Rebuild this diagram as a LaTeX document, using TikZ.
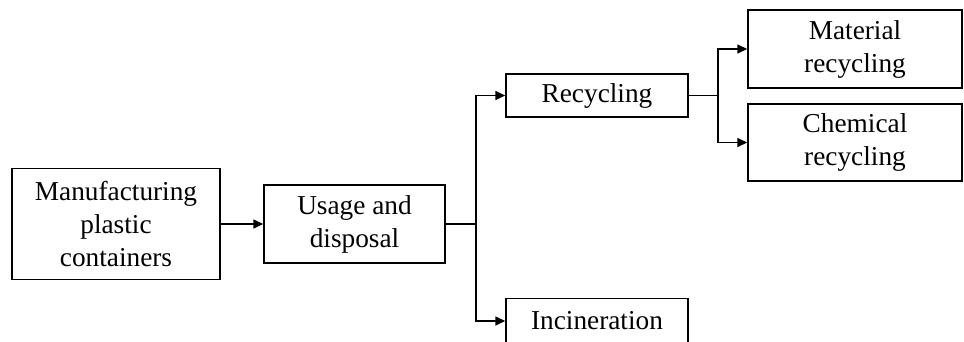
\documentclass[tikz,border=0pt]{standalone}
\usepackage{fontspec}
\setmainfont{Liberation Serif}
\usetikzlibrary{arrows.meta}
\begin{document}
\begin{tikzpicture}[x=1pt,y=-1pt,
  box/.style={draw=black,line width=1.4pt,rectangle,inner sep=0pt,align=center,
    font=\fontsize{27.3}{33}\selectfont},
  conn/.style={line width=1.4pt,draw=black},
  arr/.style={conn,-{Triangle[length=10pt,width=9pt]}}]
\useasboundingbox (0,0) rectangle (964,341);
\node[box,minimum width=208pt,minimum height=111pt] (man) at (116,224) {Manufacturing\\plastic\\containers};
\node[box,minimum width=181pt,minimum height=78pt] (use) at (354.5,224) {Usage and\\disposal};
\node[box,minimum width=182pt,minimum height=43pt] (rec) at (597,95.5) {Recycling};
\node[box,minimum width=182pt,minimum height=45pt] (inc) at (597,321) {Incineration};
\node[box,minimum width=214pt,minimum height=78pt] (mat) at (855,49) {Material\\recycling};
\node[box,minimum width=214pt,minimum height=77pt] (chem) at (855,142.5) {Chemical\\recycling};
\coordinate (j1) at (476,224);
\coordinate (j2) at (718,95.5);
\draw[arr] (man.east) -- (use.west);
\draw[conn] (use.east) -- (j1);
\draw[arr] (j1) |- (rec.west);
\draw[arr] (j1) |- (inc.west);
\draw[conn] (rec.east) -- (j2);
\draw[arr] (j2) |- (mat.west);
\draw[arr] (j2) |- (chem.west);
\end{tikzpicture}
\end{document}
